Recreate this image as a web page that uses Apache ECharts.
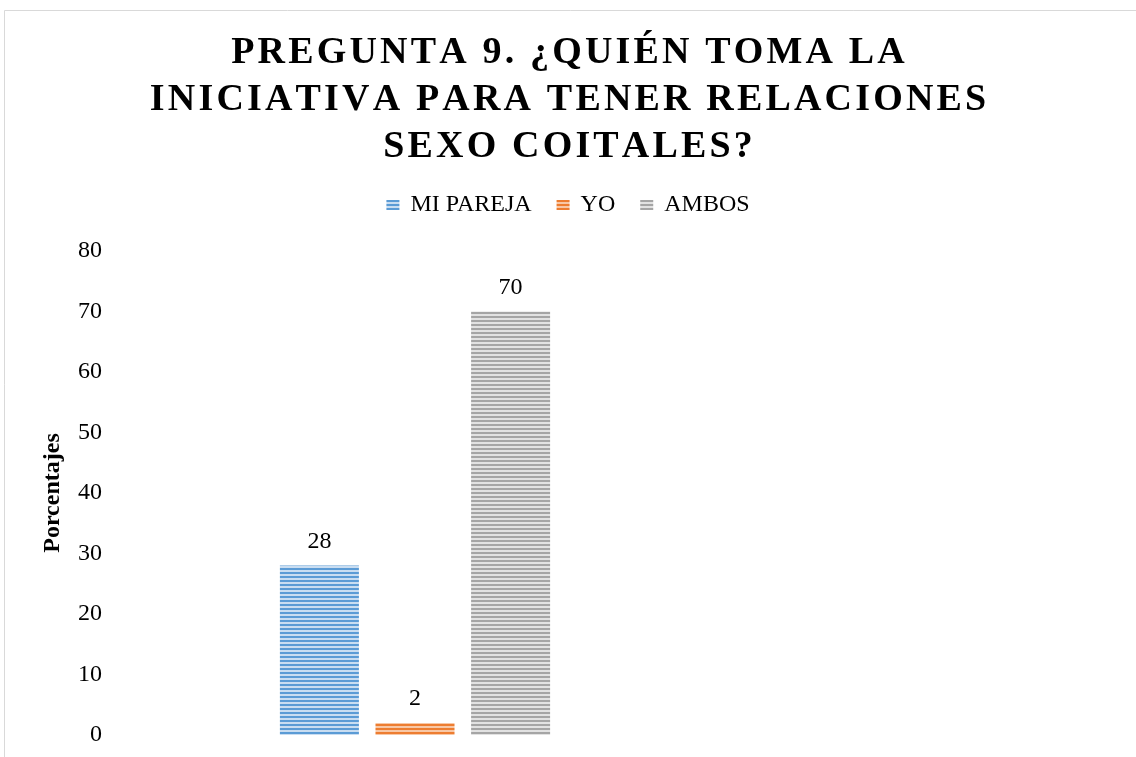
<!DOCTYPE html>
<html>
<head>
<meta charset="utf-8">
<script src="https://cdn.jsdelivr.net/npm/echarts@6/dist/echarts.min.js"></script>
<style>
html,body{margin:0;padding:0;background:#fff;}
#chart{width:1136px;height:757px;}
</style>
</head>
<body>
<div id="chart"></div>
<script>
const titleLines = ['PREGUNTA 9. ¿QUIÉN TOMA LA', 'INICIATIVA PARA TENER RELACIONES', 'SEXO COITALES?']
const categories = ['']
const seriesNames = ['MI PAREJA', 'YO', 'AMBOS']
const seriesValues = [[28], [2], [70]]
const yTicks = { min: 0, max: 80, interval: 10 }
const axisName = 'Porcentajes'

// colores: [oscuro, claro] de las rayas horizontales
const stripes = [['#5b9bd5', '#c9ddf1'], ['#ed7d31', '#f8c8a6'], ['#a5a5a5', '#e2e2e2']]

function stripePattern(pair){
    const c = document.createElement('canvas')
    c.width = 4
    c.height = 4
    const ctx = c.getContext('2d')
    ctx.fillStyle = pair[1]
    ctx.fillRect(0, 0, 4, 4)
    ctx.fillStyle = pair[0]
    ctx.fillRect(0, 0, 4, 2)
    return { image: c, repeat: 'repeat' }
}

// espaciado entre letras del titulo
function spaced(s){
    return s.split('').join('\u200A')
}

const chart = echarts.init(document.getElementById('chart'))
const option = {
    backgroundColor: '#fff',
    title: {
        text: titleLines.map(spaced).join('\n'),
        left: 'center',
        top: 25,
        textStyle: {
            fontFamily: 'Liberation Serif',
            fontWeight: 'bold',
            fontSize: 38,
            lineHeight: 47,
            color: '#000'
        }
    },
    legend: {
        top: 188,
        left: 'center',
        icon: 'rect',
        itemWidth: 13,
        itemHeight: 10,
        itemGap: 25,
        textStyle: {
            fontFamily: 'Liberation Serif',
            fontSize: 24,
            color: '#000',
            padding: [0, 0, 0, 6]
        },
        data: seriesNames
    },
    graphic: [{
        type: 'rect',
        shape: { x: 4.5, y: 10.5, width: 1300, height: 900 },
        style: { fill: 'none', stroke: '#d9d9d9', lineWidth: 1 },
        silent: true
    }],
    grid: { top: 251, bottom: 22, left: 110, right: 416 },
    xAxis: {
        type: 'category',
        data: categories,
        axisLine: { show: false },
        axisTick: { show: false },
        axisLabel: { show: false },
        splitLine: { show: false }
    },
    yAxis: {
        type: 'value',
        min: yTicks.min,
        max: yTicks.max,
        interval: yTicks.interval,
        name: axisName,
        nameLocation: 'middle',
        nameGap: 45,
        nameRotate: 90,
        nameTextStyle: {
            fontFamily: 'Liberation Serif',
            fontWeight: 'bold',
            fontSize: 24,
            color: '#000'
        },
        axisLine: { show: false },
        axisTick: { show: false },
        splitLine: { show: false },
        axisLabel: {
            margin: 8,
            fontFamily: 'Liberation Serif',
            fontSize: 24,
            color: '#000'
        }
    },
    series: seriesNames.map((name, i) => ({
        name: name,
        type: 'bar',
        data: seriesValues[i],
        barWidth: 79,
        barGap: '21%',
        itemStyle: { color: stripePattern(stripes[i]) },
        label: {
            show: true,
            position: 'top',
            distance: 12,
            fontFamily: 'Liberation Serif',
            fontSize: 24,
            color: '#000'
        }
    }))
}
chart.setOption(option)
</script>
</body>
</html>
